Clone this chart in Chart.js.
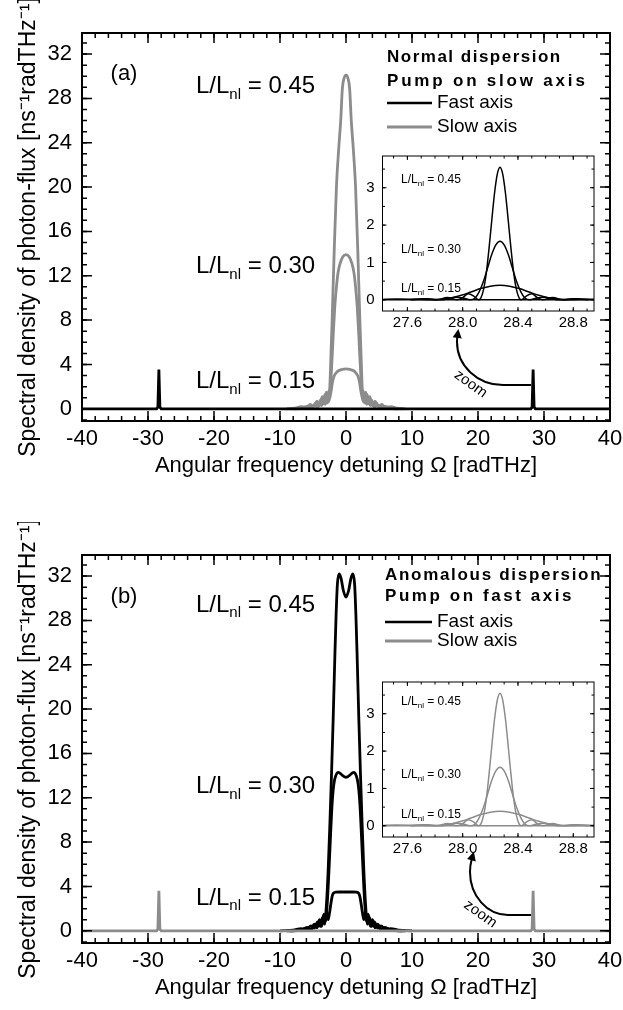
<!DOCTYPE html>
<html>
<head>
<meta charset="utf-8">
<script src="https://cdn.jsdelivr.net/npm/chart.js@4.4.1/dist/chart.umd.min.js"></script>
<style>
html, body { margin:0; padding:0; background:#fff; }
body { width:623px; height:1010px; position:relative; overflow:hidden; }
canvas { position:absolute; }
</style>
</head>
<body>
<canvas id="mainA" width="623" height="488" style="left:0;top:0;width:623px;height:488px"></canvas>
<canvas id="mainB" width="623" height="488" style="left:0;top:522px;width:623px;height:488px"></canvas>
<canvas id="insetA" width="265" height="195" style="left:340px;top:146px;width:265px;height:195px"></canvas>
<canvas id="insetB" width="265" height="195" style="left:340px;top:672px;width:265px;height:195px"></canvas>
<script>
const FONT = "'Liberation Sans', Arial, Helvetica, sans-serif";
const BLACK = '#000000';
const GRAY = '#8c8c8c';

// ---------- texts ----------
const xTitle = 'Angular frequency detuning \u03A9 [radTHz]';
const yTitle = 'Spectral density of photon-flux [ns\u207B\u00B9radTHz\u207B\u00B9]';
const ratioLabels = ['0.45', '0.30', '0.15'];
const legendA = ['Normal dispersion', 'Pump on slow axis'];
const legendB = ['Anomalous dispersion', 'Pump on fast axis'];
const seriesNames = ['Fast axis', 'Slow axis'];
const panelNames = ['(a)', '(b)'];

// ---------- panel (a): normal dispersion, pump on slow axis ----------
// fast axis (black): baseline + side peaks
const fastA_x = [-40, -28.7, -28.5, -28.35, -28.2, -28.0, 28.0, 28.2, 28.35, 28.5, 28.7, 40];
const fastA_y = [0, 0, 0.15, 3.55, 0.15, 0, 0, 0.15, 3.55, 0.15, 0, 0];
// slow axis (gray) central spectra
const slowA45_x = [-8.5,-7,-6,-5.3,-4.8,-4.4,-4.0,-3.7,-3.4,-3.15,-2.95,-2.75,-2.6,-2.45,-2.3,-2.1,-1.8,-1.45,-1.1,-0.8,-0.55,-0.3,0,0.3,0.55,0.8,1.1,1.45,1.8,2.1,2.3,2.45,2.6,2.75,2.95,3.15,3.4,3.7,4.0,4.4,4.8,5.3,6,7,8.5];
const slowA45_y = [0,0.05,0.2,0.1,0.35,0.2,0.6,0.3,0.9,0.4,1.2,0.6,1.0,2.0,4.5,8,14,20,23.5,26,28.9,29.8,30.1,29.8,28.9,26,23.5,20,14,8,4.5,2.0,1.0,0.6,1.2,0.4,0.9,0.3,0.6,0.2,0.35,0.1,0.2,0.05,0];
const slowA30_x = [-8,-6.5,-5.7,-5.1,-4.6,-4.2,-3.85,-3.5,-3.2,-2.9,-2.65,-2.45,-2.2,-1.95,-1.7,-1.45,-1.2,-0.9,-0.5,0,0.5,0.9,1.2,1.45,1.7,1.95,2.2,2.45,2.65,2.9,3.2,3.5,3.85,4.2,4.6,5.1,5.7,6.5,8];
const slowA30_y = [0,0.05,0.25,0.1,0.5,0.2,0.8,0.4,1.3,0.5,1.6,1.4,3.5,6.5,9.2,11,12.3,13.1,13.7,13.9,13.7,13.1,12.3,11,9.2,6.5,3.5,1.4,1.6,0.5,1.3,0.4,0.8,0.2,0.5,0.1,0.25,0.05,0];
const slowA15_x = [-9,-7.8,-6.8,-6.0,-5.4,-4.9,-4.4,-4.0,-3.6,-3.3,-3.0,-2.7,-2.45,-2.25,-2.05,-1.8,-1.5,-1.1,-0.6,0,0.6,1.1,1.5,1.8,2.05,2.25,2.45,2.7,3.0,3.3,3.6,4.0,4.4,4.9,5.4,6.0,6.8,7.8,9];
const slowA15_y = [0,0.05,0.2,0.1,0.4,0.2,0.7,0.3,1.1,0.5,1.5,0.6,1.0,1.6,2.4,2.95,3.25,3.45,3.55,3.6,3.55,3.45,3.25,2.95,2.4,1.6,1.0,0.6,1.5,0.5,1.1,0.3,0.7,0.2,0.4,0.1,0.2,0.05,0];

// ---------- panel (b): anomalous dispersion, pump on fast axis ----------
// slow axis (gray): baseline + side peaks
const slowB_x = [-40, -28.7, -28.5, -28.35, -28.2, -28.0, 28.0, 28.2, 28.35, 28.5, 28.7, 40];
const slowB_y = [0, 0, 0.15, 3.6, 0.15, 0, 0, 0.15, 3.6, 0.15, 0, 0];
// fast axis (black) central spectra
const fastB45_x = [-9,-7,-6,-5.3,-4.8,-4.4,-4.0,-3.7,-3.4,-3.2,-2.95,-2.7,-2.45,-2.2,-1.95,-1.7,-1.5,-1.3,-1.05,-0.75,-0.4,0,0.4,0.75,1.05,1.3,1.5,1.7,1.95,2.2,2.45,2.7,2.95,3.2,3.4,3.7,4.0,4.4,4.8,5.3,6,7,9];
const fastB45_y = [0,0.05,0.25,0.1,0.5,0.3,0.9,0.4,1.4,0.8,2.5,5.5,9.5,14,19,24.5,28.5,31.3,32.2,31.8,30.7,30.1,30.7,31.8,32.2,31.3,28.5,24.5,19,14,9.5,5.5,2.5,0.8,1.4,0.4,0.9,0.3,0.5,0.1,0.25,0.05,0];
const fastB30_x = [-8.5,-6.8,-5.9,-5.3,-4.8,-4.4,-4.0,-3.65,-3.35,-3.1,-2.85,-2.6,-2.35,-2.1,-1.85,-1.55,-1.15,-0.6,0,0.6,1.15,1.55,1.85,2.1,2.35,2.6,2.85,3.1,3.35,3.65,4.0,4.4,4.8,5.3,5.9,6.8,8.5];
const fastB30_y = [0,0.05,0.3,0.15,0.6,0.3,1.0,0.5,1.5,0.9,2.4,5.2,8.5,11.5,13.2,14.0,14.3,14.05,13.85,14.05,14.3,14.0,13.2,11.5,8.5,5.2,2.4,0.9,1.5,0.5,1.0,0.3,0.6,0.15,0.3,0.05,0];
const fastB15_x = [-10,-8,-6.8,-6.0,-5.3,-4.8,-4.3,-3.9,-3.55,-3.25,-2.95,-2.7,-2.5,-2.3,-2.1,-1.9,-1.6,-1.0,0,1.0,1.6,1.9,2.1,2.3,2.5,2.7,2.95,3.25,3.55,3.9,4.3,4.8,5.3,6.0,6.8,8,10];
const fastB15_y = [0,0.05,0.2,0.1,0.45,0.25,0.8,0.4,1.2,0.6,1.7,1.0,1.6,2.4,3.1,3.4,3.48,3.5,3.5,3.5,3.48,3.4,3.1,2.4,1.6,1.0,1.7,0.6,1.2,0.4,0.8,0.25,0.45,0.1,0.2,0.05,0];

// ---------- insets (zoom around 28.27 radTHz) ----------
const insetBase_x = [27.3, 29.1];
const insetBase_y = [0, 0];
const inset45_x = [27.62,27.72,27.81,27.89,27.96,28.00,28.04,28.08,28.115,28.13,28.15,28.17,28.19,28.21,28.23,28.25,28.27,28.29,28.31,28.33,28.35,28.37,28.39,28.41,28.425,28.46,28.50,28.54,28.58,28.65,28.73,28.82,28.92];
const inset45_y = [0,0.03,0,0.06,0,0.06,0.16,0.10,0,0.04,0.26,0.69,1.35,2.11,2.84,3.36,3.55,3.36,2.84,2.11,1.35,0.69,0.26,0.04,0,0.10,0.16,0.06,0,0.06,0,0.03,0];
const inset30_x = [27.63,27.74,27.84,27.90,27.95,28.00,28.055,28.09,28.12,28.15,28.18,28.21,28.24,28.27,28.30,28.33,28.36,28.39,28.42,28.45,28.485,28.54,28.59,28.64,28.70,28.80,28.91];
const inset30_y = [0,0.025,0,0.03,0.07,0.05,0,0.05,0.22,0.49,0.85,1.21,1.47,1.57,1.47,1.21,0.85,0.49,0.22,0.05,0,0.05,0.07,0.03,0,0.025,0];
const inset15_x = [27.27,27.40,27.52,27.64,27.77,27.85,27.92,27.99,28.06,28.13,28.20,28.27,28.34,28.41,28.48,28.55,28.62,28.69,28.77,28.90,29.02,29.14,29.27];
const inset15_y = [0,0.008,0.018,0.013,0,0.014,0.054,0.123,0.21,0.30,0.365,0.39,0.365,0.30,0.21,0.123,0.054,0.014,0,0.013,0.018,0.008,0];

const pts = (xs, ys) => xs.map((x, i) => ({ x, y: ys[i] }));

function lineDs(xs, ys, color, width, smooth) {
  return {
    data: pts(xs, ys), borderColor: color, borderWidth: width,
    pointRadius: 0, fill: false,
    tension: smooth ? 0.4 : 0,
    cubicInterpolationMode: smooth ? 'monotone' : 'default'
  };
}

// ---------- helpers ----------
function frameTicks(cfg) {
  return {
    id: 'frameTicks',
    beforeDraw(chart) {
      if (!cfg.fillBox) return;
      const { ctx, chartArea: a } = chart;
      ctx.save(); ctx.fillStyle = '#fff';
      ctx.fillRect(a.left, a.top, a.width, a.height); ctx.restore();
    },
    afterDraw(chart) {
      const { ctx, chartArea: a, scales: { x, y } } = chart;
      ctx.save();
      ctx.strokeStyle = '#000';
      ctx.lineWidth = cfg.tickW;
      const tick = (axis, step, len, isX) => {
        const n0 = Math.ceil(axis.min / step - 1e-9), n1 = Math.floor(axis.max / step + 1e-9);
        for (let i = n0; i <= n1; i++) {
          const p = axis.getPixelForValue(i * step);
          ctx.beginPath();
          if (isX) {
            ctx.moveTo(p, a.bottom); ctx.lineTo(p, a.bottom - len);
            ctx.moveTo(p, a.top); ctx.lineTo(p, a.top + len);
          } else {
            ctx.moveTo(a.left, p); ctx.lineTo(a.left + len, p);
            ctx.moveTo(a.right, p); ctx.lineTo(a.right - len, p);
          }
          ctx.stroke();
        }
      };
      tick(x, cfg.xMinor, cfg.minLen, true);
      tick(x, cfg.xMajor, cfg.majLen, true);
      tick(y, cfg.yMinor, cfg.minLen, false);
      tick(y, cfg.yMajor, cfg.majLen, false);
      ctx.lineWidth = cfg.frameW;
      ctx.strokeRect(a.left, a.top, a.width, a.height);
      ctx.restore();
    }
  };
}

function ratioLabel(ctx, x, y, val, size) {
  ctx.textAlign = 'left'; ctx.textBaseline = 'middle'; ctx.fillStyle = '#000';
  ctx.font = size + 'px ' + FONT;
  ctx.fillText('L/L', x, y);
  let w = ctx.measureText('L/L').width;
  const ss = Math.round(size * 0.63);
  ctx.font = ss + 'px ' + FONT;
  ctx.fillText('nl', x + w, y + size * 0.32);
  w += ctx.measureText('nl').width;
  ctx.font = size + 'px ' + FONT;
  ctx.fillText(' = ' + val, x + w, y);
}

function spaced(ctx, text, x, y, sp) {
  for (const ch of text) { ctx.fillText(ch, x, y); x += ctx.measureText(ch).width + sp; }
}

function drawLegend(ctx, x0, ys, titles, spacing, lineEnd, textX) {
  ctx.textAlign = 'left'; ctx.textBaseline = 'middle'; ctx.fillStyle = '#000';
  ctx.font = 'bold 17px ' + FONT;
  spaced(ctx, titles[0], x0, ys[0], spacing[0]);
  spaced(ctx, titles[1], x0, ys[1], spacing[1]);
  [BLACK, GRAY].forEach((c, i) => {
    ctx.strokeStyle = c; ctx.lineWidth = 2.5 + i * 0.5;
    ctx.beginPath(); ctx.moveTo(x0, ys[2 + i]); ctx.lineTo(lineEnd, ys[2 + i]); ctx.stroke();
    ctx.fillStyle = '#000';
    ctx.font = '19px ' + FONT;
    ctx.fillText(seriesNames[i], textX, ys[2 + i]);
  });
}

function zoomArrow(ctx, sx, cx, cy, rx, ry, endAng, textAng, textR) {
  const yb = cy + ry;
  ctx.strokeStyle = '#000'; ctx.lineWidth = 2;
  ctx.beginPath(); ctx.moveTo(sx, yb); ctx.lineTo(cx, yb);
  ctx.ellipse(cx, cy, rx, ry, 0, Math.PI / 2, endAng); ctx.stroke();
  const ex = cx + rx * Math.cos(endAng), ey = cy + ry * Math.sin(endAng);
  let dx = -rx * Math.sin(endAng), dy = ry * Math.cos(endAng);
  const L = Math.hypot(dx, dy); dx /= L; dy /= L;
  ctx.fillStyle = '#000'; ctx.beginPath();
  ctx.moveTo(ex + dx * 8, ey + dy * 8);
  ctx.lineTo(ex - dy * 4.5 - dx * 1, ey + dx * 4.5 - dy * 1);
  ctx.lineTo(ex + dy * 4.5 - dx * 1, ey - dx * 4.5 - dy * 1);
  ctx.closePath(); ctx.fill();
  const tx = cx + (rx + textR) * Math.cos(textAng), ty = cy + (ry + textR) * Math.sin(textAng);
  ctx.save(); ctx.translate(tx, ty); ctx.rotate(textAng - Math.PI / 2);
  ctx.font = '15px ' + FONT; ctx.textAlign = 'center'; ctx.textBaseline = 'middle';
  ctx.fillText('zoom', 0, 0); ctx.restore();
}

function decoPlugin(p) {
  return {
    id: 'deco',
    afterDraw(chart) {
      const ctx = chart.ctx;
      ctx.save();
      ctx.fillStyle = '#000';
      ctx.font = '22px ' + FONT; ctx.textAlign = 'center'; ctx.textBaseline = 'middle';
      ctx.fillText(p.name, 124, p.nameY);
      ratioLabels.forEach((v, i) => ratioLabel(ctx, 196, p.ratioY[i], v, 24));
      drawLegend(ctx, p.legX, p.legY, p.titles, p.spacing, 432, 437);
      zoomArrow(ctx, 531, p.arrow.cx, p.arrow.cy, p.arrow.rx, p.arrow.ry, p.arrow.end, p.arrow.tAng, 9);
      ctx.restore();
    }
  };
}

const tickFont = { family: FONT, size: 22 };

function mainChart(id, datasets, deco) {
  return new Chart(document.getElementById(id), {
    type: 'line',
    data: { datasets },
    options: {
      responsive: false, animation: false, events: [],
      layout: { padding: { left: 0, top: 33, right: 13, bottom: 7 } },
      plugins: { legend: { display: false }, tooltip: { enabled: false } },
      scales: {
        x: {
          type: 'linear', min: -40, max: 40,
          grid: { display: false, drawTicks: false }, border: { display: false },
          ticks: { stepSize: 10, includeBounds: false, autoSkip: false, maxRotation: 0, padding: 5, color: '#000', font: tickFont },
          title: { display: true, text: xTitle, color: '#000', font: { family: FONT, size: 22 }, padding: { top: 0, bottom: 2 } },
          afterFit: s => { s.height = 60; s.paddingLeft = 0; s.paddingRight = 0; }
        },
        y: {
          type: 'linear', min: -1.1, max: 33.9,
          grid: { display: false, drawTicks: false }, border: { display: false },
          ticks: { stepSize: 4, includeBounds: false, autoSkip: false, padding: 10, color: '#000', font: tickFont },
          afterBuildTicks: s => { s.ticks = s.ticks.filter(t => t.value >= 0 && Math.abs(t.value / 4 - Math.round(t.value / 4)) < 1e-6); },
          title: { display: true, text: yTitle, color: '#000', font: { family: FONT, size: 23 }, padding: { top: 15, bottom: 0 } },
          afterFit: s => { s.width = 82; s.paddingTop = 0; s.paddingBottom = 0; }
        }
      }
    },
    plugins: [frameTicks({ xMajor: 10, xMinor: 2, yMajor: 4, yMinor: 1, majLen: 10, minLen: 5, tickW: 1.5, frameW: 2, fillBox: false }), deco]
  });
}

function insetDeco(ys) {
  return {
    id: 'insetDeco',
    afterDraw(chart) {
      const ctx = chart.ctx;
      ctx.save();
      ratioLabels.forEach((v, i) => ratioLabel(ctx, 61, ys[i], v, 12));
      ctx.restore();
    }
  };
}

function insetChart(id, color, labelYs) {
  return new Chart(document.getElementById(id), {
    type: 'line',
    data: { datasets: [
      lineDs(insetBase_x, insetBase_y, color, 1.5, false),
      lineDs(inset45_x, inset45_y, color, 1.5, true),
      lineDs(inset30_x, inset30_y, color, 1.5, true),
      lineDs(inset15_x, inset15_y, color, 1.5, true)
    ] },
    options: {
      responsive: false, animation: false, events: [],
      layout: { padding: { left: 0, top: 10, right: 11, bottom: 8 } },
      plugins: { legend: { display: false }, tooltip: { enabled: false } },
      scales: {
        x: {
          type: 'linear', min: 27.42, max: 28.95,
          grid: { display: false, drawTicks: false }, border: { display: false },
          ticks: { stepSize: 0.4, includeBounds: false, autoSkip: false, maxRotation: 0, padding: 3, color: '#000', font: { family: FONT, size: 15 }, callback: v => Number(v).toFixed(1) },
          afterBuildTicks: s => { s.ticks = s.ticks.filter(t => Math.abs(t.value / 0.4 - Math.round(t.value / 0.4)) < 1e-6); },
          afterFit: s => { s.height = 22; s.paddingLeft = 0; s.paddingRight = 0; }
        },
        y: {
          type: 'linear', min: -0.3, max: 3.85,
          grid: { display: false, drawTicks: false }, border: { display: false },
          ticks: { stepSize: 1, includeBounds: false, autoSkip: false, padding: 8, color: '#000', font: { family: FONT, size: 15 } },
          afterBuildTicks: s => { s.ticks = s.ticks.filter(t => t.value >= 0 && Math.abs(t.value - Math.round(t.value)) < 1e-6); },
          afterFit: s => { s.width = 42.5; s.paddingTop = 0; s.paddingBottom = 0; }
        }
      }
    },
    plugins: [frameTicks({ xMajor: 0.4, xMinor: 0.1, yMajor: 1, yMinor: 0.5, majLen: 4, minLen: 2.5, tickW: 1, frameW: 1, fillBox: true }), insetDeco(labelYs)]
  });
}

// ---------- build ----------
mainChart('mainA', [
  lineDs(fastA_x, fastA_y, BLACK, 2.8, false),
  lineDs(slowA45_x, slowA45_y, GRAY, 2.8, true),
  lineDs(slowA30_x, slowA30_y, GRAY, 2.8, true),
  lineDs(slowA15_x, slowA15_y, GRAY, 2.8, true)
], decoPlugin({
  name: panelNames[0], nameY: 74, ratioY: [86.7, 266.7, 381.7],
  legX: 387, legY: [57.5, 81.5, 103, 127], titles: legendA, spacing: [1.5, 2.8],
  arrow: { cx: 503, cy: 342, rx: 46, ry: 43, end: Math.PI + 0.12, tAng: Math.PI * 0.7 }
}));

mainChart('mainB', [
  lineDs(slowB_x, slowB_y, GRAY, 2.8, false),
  lineDs(fastB45_x, fastB45_y, BLACK, 2.8, true),
  lineDs(fastB30_x, fastB30_y, BLACK, 2.8, true),
  lineDs(fastB15_x, fastB15_y, BLACK, 2.8, true)
], decoPlugin({
  name: panelNames[1], nameY: 75, ratioY: [83, 264.7, 376.3],
  legX: 385, legY: [53, 74, 100, 119], titles: legendB, spacing: [1.7, 2.56],
  arrow: { cx: 508, cy: 350, rx: 38, ry: 43, end: Math.PI + 0.3, tAng: Math.PI * 0.7 }
}));

insetChart('insetA', BLACK, [34, 104, 143]);
insetChart('insetB', GRAY, [30, 103, 143]);
</script>
</body>
</html>
